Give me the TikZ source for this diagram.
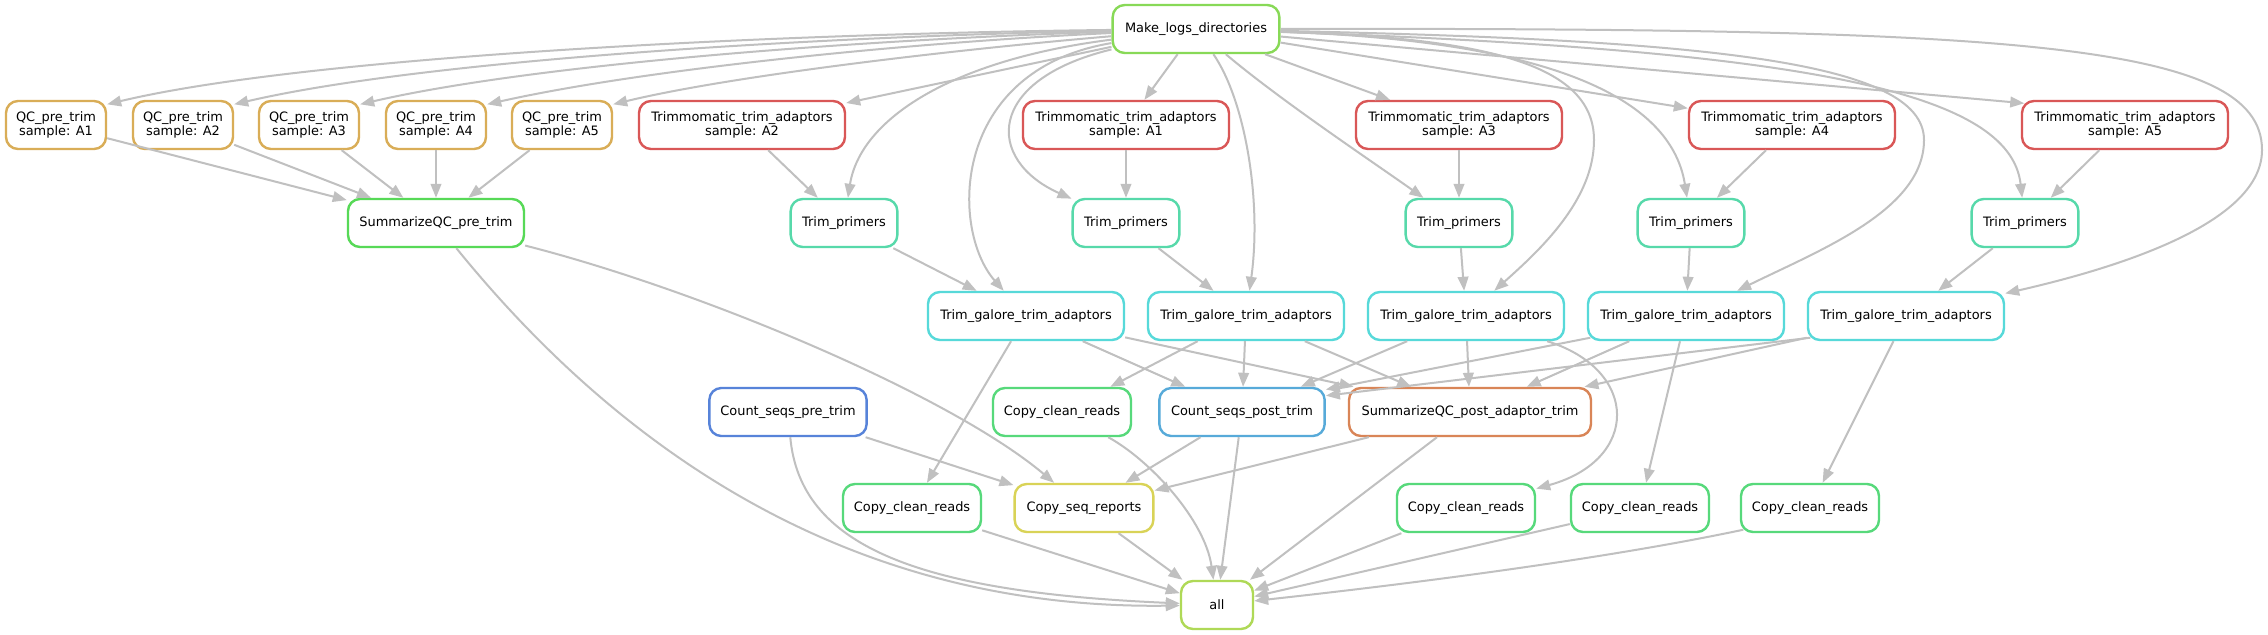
\documentclass[tikz,border=0pt]{standalone}
\usepackage{fontspec}
\setmainfont{DejaVu Sans}
\usetikzlibrary{arrows.meta}
\definecolor{eg}{RGB}{192,192,192}
\definecolor{cML}{RGB}{136,217,87}
\definecolor{cQC}{RGB}{217,173,87}
\definecolor{cTM}{RGB}{217,87,87}
\definecolor{cSQa}{RGB}{87,217,87}
\definecolor{cTP}{RGB}{87,217,170}
\definecolor{cTG}{RGB}{87,217,217}
\definecolor{cCP}{RGB}{87,217,123}
\definecolor{cCSb}{RGB}{87,170,217}
\definecolor{cCSa}{RGB}{87,131,217}
\definecolor{cSQb}{RGB}{217,133,87}
\definecolor{cCR}{RGB}{217,211,87}
\definecolor{cAll}{RGB}{175,217,87}
\tikzset{
  box/.style={draw, rounded corners=9pt, line width=1.8pt, minimum height=36pt,
    inner sep=0pt, align=center, fill=white, text=black,
    font=\fontsize{9.7}{11}\selectfont},
  e/.style={draw=eg, line width=1.5pt, -{Triangle[length=10.5pt,width=8pt]}},
  mlbox/.style={box, draw=cML, minimum width=125pt},
  qcbox/.style={box, draw=cQC, minimum width=75pt},
  tmbox/.style={box, draw=cTM, minimum width=154.5pt},
  sqabox/.style={box, draw=cSQa, minimum width=132pt},
  tpbox/.style={box, draw=cTP, minimum width=80pt},
  tgbox/.style={box, draw=cTG, minimum width=147pt},
  csabox/.style={box, draw=cCSa, minimum width=118pt},
  cpbox/.style={box, draw=cCP, minimum width=103.5pt},
  csbbox/.style={box, draw=cCSb, minimum width=124pt},
  sqbbox/.style={box, draw=cSQb, minimum width=181.5pt},
  crbox/.style={box, draw=cCR, minimum width=104pt},
  allbox/.style={box, draw=cAll, minimum width=54pt}
}
\begin{document}
\begin{tikzpicture}[x=0.75pt,y=-0.75pt]
\fill[white] (0,0) rectangle (2268,635);
\useasboundingbox (0,0) rectangle (2268,635);
% nodes
\node[mlbox] (ml) at (1196,29) {Make\_logs\_directories};
\node[qcbox] (qc1) at (56,125) {QC\_pre\_trim\\sample: A1};
\node[qcbox] (qc2) at (183,125) {QC\_pre\_trim\\sample: A2};
\node[qcbox] (qc3) at (309,125) {QC\_pre\_trim\\sample: A3};
\node[qcbox] (qc4) at (436,125) {QC\_pre\_trim\\sample: A4};
\node[qcbox] (qc5) at (562,125) {QC\_pre\_trim\\sample: A5};
\node[tmbox] (tmA2) at (742,125) {Trimmomatic\_trim\_adaptors\\sample: A2};
\node[tmbox] (tmA1) at (1126,125) {Trimmomatic\_trim\_adaptors\\sample: A1};
\node[tmbox] (tmA3) at (1459,125) {Trimmomatic\_trim\_adaptors\\sample: A3};
\node[tmbox] (tmA4) at (1792,125) {Trimmomatic\_trim\_adaptors\\sample: A4};
\node[tmbox] (tmA5) at (2125,125) {Trimmomatic\_trim\_adaptors\\sample: A5};
\node[sqabox] (sqc1) at (436,223) {SummarizeQC\_pre\_trim};
\node[tpbox] (tp1) at (844,223) {Trim\_primers};
\node[tpbox] (tp2) at (1126,223) {Trim\_primers};
\node[tpbox] (tp3) at (1459,223) {Trim\_primers};
\node[tpbox] (tp4) at (1691,223) {Trim\_primers};
\node[tpbox] (tp5) at (2025,223) {Trim\_primers};
\node[tgbox] (tg1) at (1026,316) {Trim\_galore\_trim\_adaptors};
\node[tgbox] (tg2) at (1246,316) {Trim\_galore\_trim\_adaptors};
\node[tgbox] (tg3) at (1466,316) {Trim\_galore\_trim\_adaptors};
\node[tgbox] (tg4) at (1686,316) {Trim\_galore\_trim\_adaptors};
\node[tgbox] (tg5) at (1906,316) {Trim\_galore\_trim\_adaptors};
\node[csabox] (csp0) at (788,412) {Count\_seqs\_pre\_trim};
\node[cpbox] (cpa) at (1062,412) {Copy\_clean\_reads};
\node[csbbox] (csp) at (1242,412) {Count\_seqs\_post\_trim};
\node[sqbbox] (sqc2) at (1470,412) {SummarizeQC\_post\_adaptor\_trim};
\node[cpbox] (cpb) at (912,508) {Copy\_clean\_reads};
\node[crbox] (csr) at (1084,508) {Copy\_seq\_reports};
\node[cpbox] (cpc) at (1466,508) {Copy\_clean\_reads};
\node[cpbox] (cpd) at (1640,508) {Copy\_clean\_reads};
\node[cpbox] (cpe) at (1810,508) {Copy\_clean\_reads};
\node[allbox] (all) at (1217,605) {all};
% Make_logs -> QC
\draw[e] (ml) .. controls (750,34) and (300,58) .. (qc1.22);
\draw[e] (ml) .. controls (800,37) and (420,61) .. (qc2.22);
\draw[e] (ml) .. controls (850,40) and (530,65) .. (qc3.22);
\draw[e] (ml) .. controls (900,43) and (640,70) .. (qc4.22);
\draw[e] (ml) .. controls (950,50) and (730,76) .. (qc5.22);
% Make_logs -> Trimmomatic
\draw[e] (ml) -- (tmA2);
\draw[e] (ml) -- (tmA1);
\draw[e] (ml) -- (tmA3);
\draw[e] (ml) -- (tmA4);
\draw[e] (ml) -- ([shift={(2.6pt,-2.6pt)}]tmA5.north west);
% Make_logs -> Trim_primers
\draw[e] (ml) .. controls (950,60) and (860,120) .. (tp1);
\draw[e] (ml) .. controls (985,80) and (985,160) .. (tp2);
\draw[e] (ml) .. controls (1280,100) and (1370,160) .. (tp3);
\draw[e] (ml) .. controls (1530,40) and (1670,90) .. (tp4);
\draw[e] (ml) .. controls (1800,50) and (2010,90) .. (tp5);
% Make_logs -> Trim_galore
\draw[e] (ml) .. controls (950,70) and (950,230) .. (tg1);
\draw[e] (ml) .. controls (1245,100) and (1262,200) .. (tg2);
\draw[e] (ml) .. controls (1480,38) and (1594,62) .. (1594,140) .. controls (1594,200) and (1540,250) .. (tg3);
\draw[e] (ml) .. controls (1700,40) and (1924,60) .. (1924,140) .. controls (1924,210) and (1820,250) .. (tg4);
\draw[e] (ml) .. controls (2000,28) and (2262,40) .. (2262,150) .. controls (2262,220) and (2130,265) .. (tg5);
% QC -> SummarizeQC_pre_trim
\draw[e] (qc1) -- (sqc1);
\draw[e] (qc2) -- (sqc1);
\draw[e] (qc3) -- (sqc1);
\draw[e] (qc4) -- (sqc1);
\draw[e] (qc5) -- (sqc1);
% Trimmomatic -> Trim_primers
\draw[e] (tmA2) -- (tp1);
\draw[e] (tmA1) -- (tp2);
\draw[e] (tmA3) -- (tp3);
\draw[e] (tmA4) -- (tp4);
\draw[e] (tmA5) -- (tp5);
% Trim_primers -> Trim_galore
\draw[e] (tp1) -- (tg1);
\draw[e] (tp2) -- (tg2);
\draw[e] (tp3) -- (tg3);
\draw[e] (tp4) -- (tg4);
\draw[e] (tp5) -- (tg5);
% Trim_galore -> row 4/5
\draw[e] (tg1) -- (cpb);
\draw[e] (tg1) -- (csp);
\draw[e] (tg1) -- (sqc2);
\draw[e] (tg2) -- (cpa);
\draw[e] (tg2) -- (csp);
\draw[e] (tg2) -- (sqc2);
\draw[e] (tg3) -- (csp);
\draw[e] (tg3) -- (sqc2);
\draw[e] (tg3) .. controls (1640,370) and (1640,460) .. (cpc);
\draw[e] ([shift={(2.6pt,2.6pt)}]tg4.south west) -- (csp.15);
\draw[e] (tg4) -- (sqc2);
\draw[e] (tg4) -- (cpd);
\draw[e] ([shift={(2.6pt,2.6pt)}]tg5.south west) -- (csp.11);
\draw[e] (tg5) -- (sqc2);
\draw[e] (tg5) -- (cpe);
% towards Copy_seq_reports and all
\draw[e] (sqc1) .. controls (700,290) and (950,395) .. (csr);
\draw[e] (sqc1) .. controls (620,450) and (850,610) .. (all);
\draw[e] (csp0) -- (csr);
\draw[e] (csp0) .. controls (800,545) and (915,592) .. (all);
\draw[e] (cpa) .. controls (1150,460) and (1205,520) .. (all);
\draw[e] (csp) -- (csr);
\draw[e] (csp) -- (all);
\draw[e] (sqc2) -- (csr);
\draw[e] (sqc2) -- (all);
\draw[e] (cpb) -- (all);
\draw[e] (csr) -- (all);
\draw[e] (cpc) -- (all);
\draw[e] (cpd) -- (all);
\draw[e] ([shift={(2.6pt,2.6pt)}]cpe.south west) .. controls (1600,560) and (1400,585) .. (all);
\end{tikzpicture}
\end{document}
